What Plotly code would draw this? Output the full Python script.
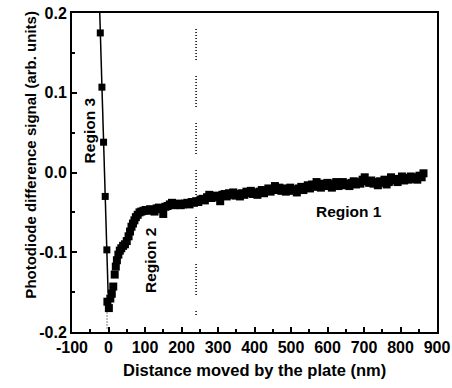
import plotly.graph_objects as go

# Region 3 measured points and fitted line
r3_x = [-22.5, -18, -13.5, -9, -4.5]
r3_y = [0.175, 0.107, 0.038, -0.030, -0.097]
fit_x = [-24, -1]
fit_y = [0.2, -0.152]

# Regions 2 and 1 data
data_x = [-3, 1, 5, 9, 13, 17, 20, 23, 27, 31, 35, 40, 45, 50, 55, 59, 63, 67, 71, 75,
          80, 85, 90, 96, 102, 108, 114, 120, 126, 132, 138, 144, 150, 156, 162, 168, 174, 180, 186, 192,
          198, 204, 210, 216, 222, 228, 234, 240, 246, 252, 258, 264, 270, 276, 282, 288, 294, 300, 306, 312,
          318, 324, 330, 336, 342, 348, 354, 360, 366, 372, 378, 384, 390, 396, 402, 408, 414, 420, 426, 432,
          438, 444, 450, 456, 462, 468, 474, 480, 486, 492, 498, 504, 510, 516, 522, 528, 534, 540, 546, 552,
          558, 564, 570, 576, 582, 588, 594, 600, 606, 612, 618, 624, 630, 636, 642, 648, 654, 660, 666, 672,
          678, 684, 690, 696, 702, 708, 714, 720, 726, 732, 738, 744, 750, 756, 762, 768, 774, 780, 786, 792,
          798, 804, 810, 816, 822, 828, 834, 840, 846, 852, 858, 863]
data_y = [-0.162, -0.170, -0.158, -0.152, -0.143, -0.128, -0.118, -0.110, -0.103, -0.098, -0.095, -0.092, -0.090, -0.086, -0.080, -0.074, -0.068, -0.064, -0.060, -0.056,
          -0.053, -0.050, -0.049, -0.048, -0.047, -0.048, -0.046, -0.047, -0.049, -0.045, -0.044, -0.046, -0.052, -0.043, -0.042, -0.040, -0.038, -0.041, -0.040, -0.039,
          -0.041, -0.040, -0.039, -0.038, -0.040, -0.037, -0.038, -0.036, -0.037, -0.034, -0.033, -0.035, -0.031, -0.028, -0.032, -0.030, -0.029, -0.031, -0.036, -0.028,
          -0.027, -0.030, -0.026, -0.028, -0.025, -0.029, -0.027, -0.030, -0.026, -0.028, -0.024, -0.026, -0.023, -0.027, -0.025, -0.028, -0.024, -0.022, -0.026, -0.023,
          -0.020, -0.024, -0.021, -0.017, -0.022, -0.019, -0.023, -0.020, -0.024, -0.022, -0.019, -0.023, -0.021, -0.025, -0.020, -0.018, -0.022, -0.019, -0.016, -0.020,
          -0.015, -0.018, -0.012, -0.016, -0.019, -0.014, -0.017, -0.013, -0.016, -0.019, -0.014, -0.012, -0.017, -0.015, -0.012, -0.016, -0.014, -0.017, -0.013, -0.011,
          -0.015, -0.012, -0.014, -0.009, -0.006, -0.011, -0.013, -0.010, -0.014, -0.012, -0.016, -0.011, -0.013, -0.009, -0.015, -0.012, -0.006, -0.010, -0.008, -0.012,
          -0.009, -0.005, -0.010, -0.007, -0.009, -0.005, -0.008, -0.006, -0.009, -0.004, -0.006, -0.001]

x_ticks = [-100, 0, 100, 200, 300, 400, 500, 600, 700, 800, 900]
x_tick_labels = ["-100", "0", "100", "200", "300", "400", "500", "600", "700", "800", "900"]
y_ticks = [-0.2, -0.1, 0.0, 0.1, 0.2]
y_tick_labels = ["-0.2", "-0.1", "0.0", "0.1", "0.2"]

boundary_x = 240
FONT = "Liberation Sans, Arial, sans-serif"

fig = go.Figure()
fig.add_trace(go.Scatter(x=fit_x, y=fit_y, mode="lines",
                         line=dict(color="black", width=1.5), showlegend=False))
fig.add_trace(go.Scatter(x=r3_x, y=r3_y, mode="markers",
                         marker=dict(symbol="square", size=7, color="black"), showlegend=False))
fig.add_trace(go.Scatter(x=data_x, y=data_y, mode="markers",
                         marker=dict(symbol="square", size=8, color="black"), showlegend=False))

dash_pat = ",".join(["1px,2px"] * 10) + ",1px,16px"
fig.add_shape(type="line", x0=boundary_x, x1=boundary_x, y0=0.18, y1=-0.18,
              xref="x", yref="y", line=dict(color="black", width=1.5, dash=dash_pat))
fig.add_shape(type="line", x0=-4, x1=-4, y0=-0.168, y1=-0.197,
              xref="x", yref="y", line=dict(color="black", width=1, dash="1px,2px"))

lab_font = dict(family=FONT, size=15.5, color="black", weight="bold")
fig.add_annotation(x=-53, y=0.053, text="Region 3", textangle=-90, showarrow=False, font=lab_font)
fig.add_annotation(x=113, y=-0.110, text="Region 2", textangle=-90, showarrow=False, font=lab_font)
fig.add_annotation(x=660, y=-0.0495, text="Region 1", showarrow=False, font=lab_font)

fig.add_annotation(xref="paper", yref="paper", x=-0.142, y=0.555, text="Photodiode difference signal (arb. units)",
                   textangle=-90, showarrow=False, font=dict(family=FONT, size=15, color="black", weight="bold"))
fig.add_annotation(xref="paper", yref="paper", x=0.5, y=-0.119, yanchor="middle",
                   text="Distance moved by the plate (nm)",
                   showarrow=False, font=dict(family=FONT, size=16.5, color="black", weight="bold"))

axis_common = dict(showline=True, linecolor="black", linewidth=2, mirror=True,
                   ticks="inside", ticklen=5, tickwidth=1.5, tickcolor="black",
                   showgrid=False, zeroline=False, automargin=False,
                   tickfont=dict(family=FONT, size=16, color="black", weight="bold"))

fig.update_xaxes(range=[-100, 900], tickvals=x_ticks, ticktext=x_tick_labels,
                 minor=dict(dtick=50, tick0=-100, ticks="inside", ticklen=3, tickcolor="black"),
                 **axis_common)
fig.update_yaxes(range=[-0.2, 0.2], tickvals=y_ticks, ticktext=y_tick_labels,
                 minor=dict(dtick=0.05, tick0=-0.2, ticks="inside", ticklen=3, tickcolor="black"),
                 **axis_common)

fig.update_layout(width=452, height=388, margin=dict(l=72, r=15, t=13, b=56),
                  paper_bgcolor="white", plot_bgcolor="white", showlegend=False)

fig.write_html("out.html", config={"displayModeBar": False},
               post_script="document.body.style.margin='0';")
